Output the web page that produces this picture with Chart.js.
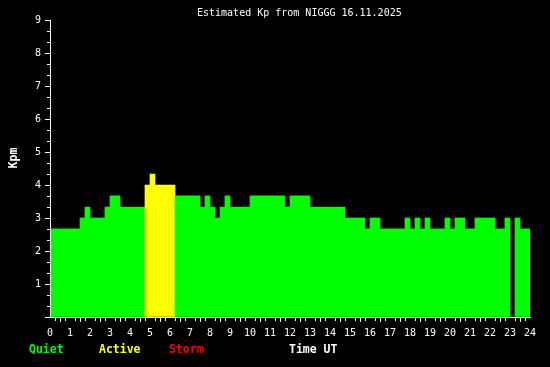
<!DOCTYPE html>
<html>
<head>
<meta charset="utf-8">
<script src="https://cdn.jsdelivr.net/npm/chart.js@4/dist/chart.umd.min.js"></script>
<style>
  html, body { margin: 0; padding: 0; background: #000; }
  #wrap { width: 550px; height: 367px; }
</style>
</head>
<body>
<div id="wrap"><canvas id="kpChart" width="550" height="367"></canvas></div>
<script>
// Estimated Kp, one value per 15 minutes (hour 0 .. 24), null = no data
const hours = [0, 1, 2, 3, 4, 5, 6, 7, 8, 9, 10, 11, 12, 13, 14, 15, 16, 17, 18, 19, 20, 21, 22, 23, 24];
const kpLevels = [1, 2, 3, 4, 5, 6, 7, 8, 9];
const kpValues = [
    2.67, 2.67, 2.67, 2.67,   // 00
    2.67, 2.67, 3.0, 3.33,    // 01
    3.0, 3.0, 3.0, 3.33,      // 02
    3.67, 3.67, 3.33, 3.33,   // 03
    3.33, 3.33, 3.33, 4.0,    // 04
    4.33, 4.0, 4.0, 4.0,      // 05
    4.0, 3.67, 3.67, 3.67,    // 06
    3.67, 3.67, 3.33, 3.67,   // 07
    3.33, 3.0, 3.33, 3.67,    // 08
    3.33, 3.33, 3.33, 3.33,   // 09
    3.67, 3.67, 3.67, 3.67,   // 10
    3.67, 3.67, 3.67, 3.33,   // 11
    3.67, 3.67, 3.67, 3.67,   // 12
    3.33, 3.33, 3.33, 3.33,   // 13
    3.33, 3.33, 3.33, 3.0,    // 14
    3.0, 3.0, 3.0, 2.67,      // 15
    3.0, 3.0, 2.67, 2.67,     // 16
    2.67, 2.67, 2.67, 3.0,    // 17
    2.67, 3.0, 2.67, 3.0,     // 18
    2.67, 2.67, 2.67, 3.0,    // 19
    2.67, 3.0, 3.0, 2.67,     // 20
    2.67, 3.0, 3.0, 3.0,      // 21
    3.0, 2.67, 2.67, 3.0,     // 22
    null, 3.0, 2.67, 2.67     // 23
];
const legendItems = [
    { text: "Quiet", color: "#00ff00" },
    { text: "Active", color: "#ffff00" },
    { text: "Storm", color: "#ff0000" }
];

const mono = "'DejaVu Sans Mono', 'Liberation Mono', monospace";

function kpColor(v) {
    if (v >= 5) return "#ff0000";
    if (v >= 4) return "#ffff00";
    return "#00ff00";
}

const points = kpValues.map((v, i) => ({ x: i * 0.25 + 0.125, y: v }));

// black background, minor ticks, y axis line and the texts
const decor = {
    id: "decor",
    beforeDraw(chart) {
        const ctx = chart.ctx;
        ctx.save();
        ctx.fillStyle = "#000";
        ctx.fillRect(0, 0, chart.width, chart.height);
        ctx.restore();
    },
    afterDatasetsDraw(chart) {
        const ctx = chart.ctx;
        const xs = chart.scales.x, ys = chart.scales.y;
        const area = chart.chartArea;
        ctx.save();
        ctx.strokeStyle = "#fff";
        ctx.lineWidth = 1;
        ctx.beginPath();
        // y axis line
        ctx.moveTo(area.left + 0.5, area.top);
        ctx.lineTo(area.left + 0.5, area.bottom + 1);
        // quarter hour ticks
        for (let q = 1; q < 96; q++) {
            if (q % 4 === 0) continue;
            const px = Math.round(xs.getPixelForValue(q / 4)) + 0.5;
            ctx.moveTo(px, area.bottom + 1);
            ctx.lineTo(px, area.bottom + 4);
        }
        // third of Kp ticks
        for (let t = 1; t < 27; t++) {
            if (t % 3 === 0) continue;
            const py = Math.round(ys.getPixelForValue(t / 3)) + 0.5;
            ctx.moveTo(area.left - 3, py);
            ctx.lineTo(area.left, py);
        }
        ctx.stroke();

        ctx.fillStyle = "#fff";
        ctx.font = "10px " + mono;
        ctx.textBaseline = "alphabetic";
        ctx.textAlign = "left";
        ctx.fillText("Estimated Kp from NIGGG 16.11.2025", 197, 16);

        ctx.font = "bold 11.5px " + mono;
        const lx = [29, 99, 169];
        legendItems.forEach((it, i) => {
            ctx.fillStyle = it.color;
            ctx.fillText(it.text, lx[i], 353);
        });
        ctx.fillStyle = "#fff";
        ctx.fillText("Time UT", 289, 353);

        ctx.translate(17, 158);
        ctx.rotate(-Math.PI / 2);
        ctx.textAlign = "center";
        ctx.fillText("Kpm", 0, 0);
        ctx.restore();
    }
};

new Chart(document.getElementById("kpChart"), {
    type: "bar",
    data: {
        datasets: [{
            data: points,
            backgroundColor: kpValues.map(v => kpColor(v)),
            borderWidth: 0,
            barPercentage: 1,
            categoryPercentage: 1
        }]
    },
    options: {
        responsive: false,
        animation: false,
        devicePixelRatio: 1,
        layout: { padding: { top: 20, right: 20, left: 0, bottom: 0 } },
        plugins: { legend: { display: false }, title: { display: false }, tooltip: { enabled: false } },
        scales: {
            x: {
                type: "linear",
                min: 0,
                max: 24,
                offset: false,
                afterFit(scale) { scale.height = 50; },
                afterBuildTicks(scale) { scale.ticks = hours.map(h => ({ value: h })); },
                ticks: {
                    color: "#fff",
                    font: { family: mono, size: 10 },
                    padding: 5,
                    maxRotation: 0,
                    autoSkip: false,
                    callback: v => String(v)
                },
                grid: { display: true, drawOnChartArea: false, drawTicks: true, tickLength: 5, color: "#fff" },
                border: { display: true, color: "#fff" }
            },
            y: {
                min: 0,
                max: 9,
                afterFit(scale) { scale.width = 50; },
                afterBuildTicks(scale) { scale.ticks = [0].concat(kpLevels).map(v => ({ value: v })); },
                ticks: {
                    color: "#fff",
                    font: { family: mono, size: 10 },
                    padding: 4,
                    callback: v => (v === 0 ? "" : String(v))
                },
                grid: { display: true, drawOnChartArea: false, drawTicks: true, tickLength: 5, color: "#fff" },
                border: { display: false }
            }
        }
    },
    plugins: [decor]
});
</script>
</body>
</html>
